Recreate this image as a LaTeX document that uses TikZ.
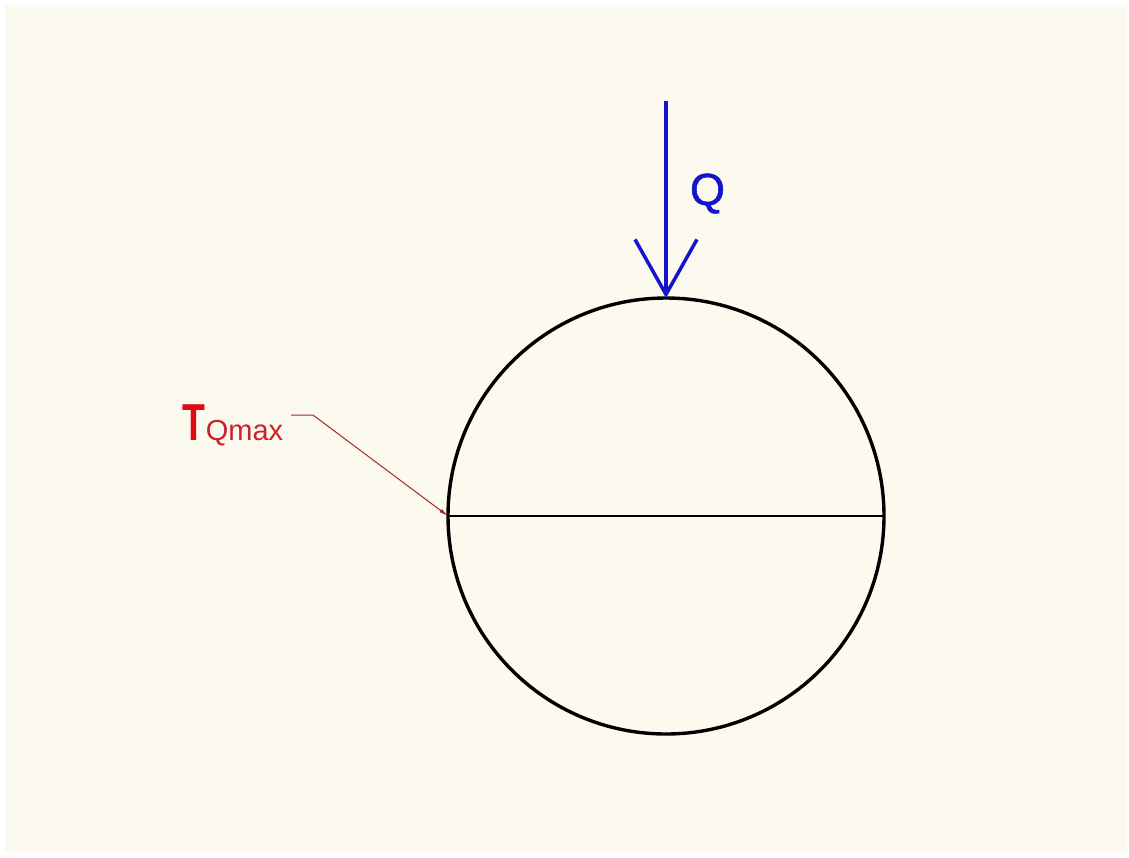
\documentclass[tikz,border=0pt]{standalone}
\usepackage{fontspec}
\usepackage{graphicx}
\setmainfont{Liberation Sans}
\usetikzlibrary{arrows.meta}
\definecolor{bgcream}{RGB}{252,250,239}
\definecolor{qblue}{RGB}{20,20,205}
\definecolor{tred}{RGB}{225,10,20}
\definecolor{sred}{RGB}{200,35,45}
\definecolor{leadred}{RGB}{165,40,40}
\begin{document}
\begin{tikzpicture}[x=1pt,y=-1pt,
  rim/.style={circle,draw=black,line width=3.4pt,minimum size=436pt,inner sep=0pt,outer sep=0pt},
  force/.style={draw=qblue,line width=3.5pt,-{Straight Barb[length=55pt,width=62pt,line width=3.5pt]}},
  leader/.style={draw=leadred,line width=1pt,-{Latex[length=9pt,width=4pt]}},
  lbl/.style={inner sep=0pt,outer sep=0pt}]
\useasboundingbox (0,0) rectangle (1129,857);
\fill[white] (0,0) rectangle (1129,857);
\fill[bgcream] (5,5) rectangle (1127,852);
\node[rim] (c) at (666,516) {};
\draw[line width=1.2pt] (c.west) -- (c.east);
\coordinate (qtop) at (666,101);
\draw[force] (qtop) -- (c.north);
\node[lbl,anchor=base west,text=qblue] (q) at (690,205) {\fontsize{45}{45}\selectfont\addfontfeature{FakeBold=1.2}Q};
\node[lbl,anchor=base west] (t) at (182,440) {\textcolor{tred}{\fontsize{52}{52}\selectfont\scalebox{0.72}[1]{\bfseries T}}\kern1pt\textcolor{sred}{\fontsize{29}{29}\selectfont Qmax}};
\coordinate (ls) at (291,415);
\coordinate (lk) at (313,415);
\draw[leader] (ls) -- (lk) -- (c.west);
\end{tikzpicture}
\end{document}
